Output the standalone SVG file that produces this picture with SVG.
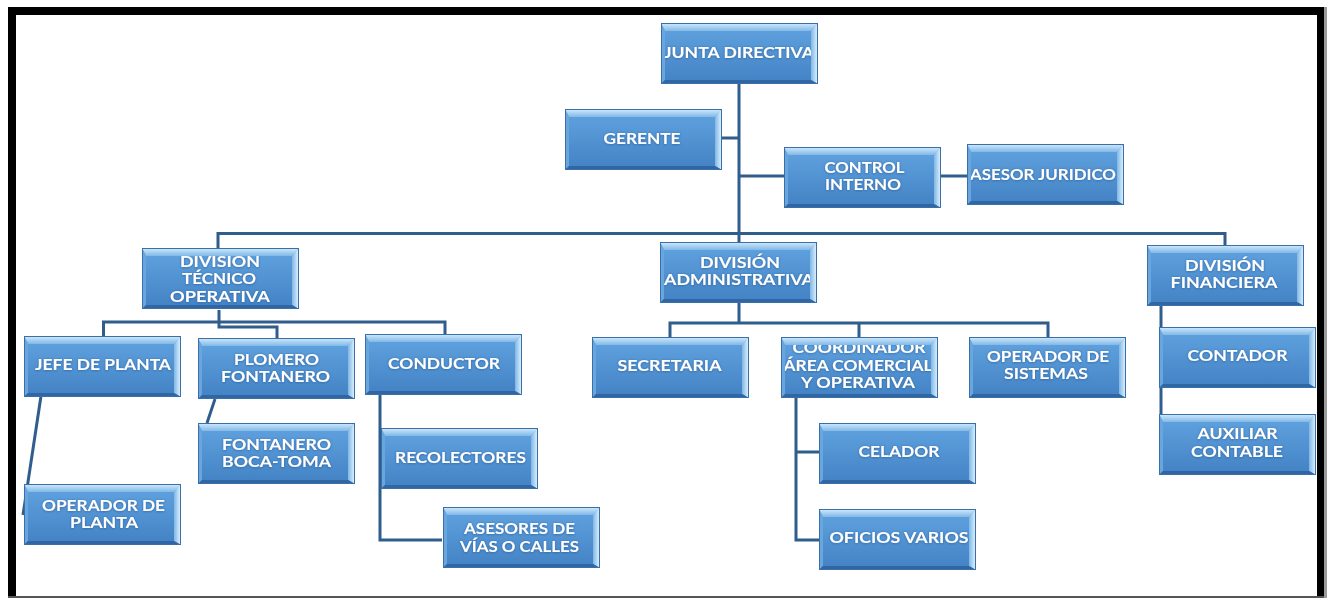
<svg xmlns="http://www.w3.org/2000/svg" width="1327" height="598" viewBox="0 0 1327 598">
<defs>
<linearGradient id="gFace" x1="0" y1="0" x2="0" y2="1">
<stop offset="0" stop-color="#62a3e0"/>
<stop offset="1" stop-color="#4282c4"/>
</linearGradient>
<linearGradient id="gTop" x1="0" y1="0" x2="0" y2="1">
<stop offset="0" stop-color="#d4ebfb"/>
<stop offset="1" stop-color="#80b9e8"/>
</linearGradient>
<linearGradient id="gRight" x1="0" y1="0" x2="1" y2="0">
<stop offset="0" stop-color="#7fb6e6"/>
<stop offset="1" stop-color="#e6f6ff"/>
</linearGradient>
<filter id="tshadow" x="-10%" y="-30%" width="120%" height="160%">
<feDropShadow dx="0" dy="0.5" stdDeviation="0.8" flood-color="#1f4f86" flood-opacity="0.7"/>
</filter>
<symbol id="face" overflow="visible">
<rect x="0" y="0" width="157" height="61" fill="url(#gFace)"/>
</symbol>
<symbol id="bevel" overflow="visible">
<polygon points="0,0 157,0 150,8 4,8" fill="url(#gTop)"/>
<polygon points="0,0 4,8 4,57 0,61" fill="#6aa6de"/>
<polygon points="157,0 157,61 150,57 150,8" fill="url(#gRight)"/>
<polygon points="0,61 4,57 150,57 157,61" fill="#2f66a3"/>
<rect x="0.5" y="0.5" width="156" height="60" fill="none" stroke="#3a70aa" stroke-width="1"/>
</symbol>
</defs>
<style>
.lbl{font-family:Lato,"Open Sans","Liberation Sans",sans-serif;font-weight:700;font-size:16px;fill:#ffffff;text-anchor:middle;filter:url(#tshadow)}
.con{fill:none;stroke:#2f5d8c;stroke-width:3}
</style>
<rect x="0" y="0" width="1327" height="598" fill="#ffffff"/>
<g id="frame">
<rect x="8" y="7" width="1316" height="8" fill="#000000"/>
<rect x="8" y="7" width="8" height="591" fill="#000000"/>
<rect x="1317" y="7" width="7" height="591" fill="#000000"/>
<rect x="1324" y="7" width="3" height="591" fill="#9a9a9a"/>
<rect x="8" y="596" width="1316" height="2" fill="#555555"/>
</g>
<g id="connectors">
<path class="con" d="M739 83 V242"/>
<path class="con" d="M721 138 H739"/>
<path class="con" d="M739 176 H784"/>
<path class="con" d="M941 176 H967"/>
<path class="con" d="M218 248 V233.5 H1225 V245"/>
<path class="con" d="M219 310 V322"/>
<path class="con" d="M103.5 336 V322 H445 V334"/>
<path class="con" d="M219 322 V327 H277 V338"/>
<path class="con" d="M41 396 L23 515"/>
<path class="con" d="M215 399 L207 423"/>
<path class="con" d="M380 394 V540 H442"/>
<path class="con" d="M739 302 V323"/>
<path class="con" d="M670 337 V323 H1048 V337"/>
<path class="con" d="M859 323 V337"/>
<path class="con" d="M796 397 V540 H819"/>
<path class="con" d="M796 452 H819"/>
<path class="con" d="M1161 305 V443"/>
</g>
<g id="n-junta"><use href="#face" x="661" y="23"/><text class="lbl" x="739" y="58" textLength="150" lengthAdjust="spacingAndGlyphs">JUNTA DIRECTIVA</text><use href="#bevel" x="661" y="23"/></g>
<g id="n-gerente"><use href="#face" x="565" y="109"/><text class="lbl" x="642" y="144" textLength="77" lengthAdjust="spacingAndGlyphs">GERENTE</text><use href="#bevel" x="565" y="109"/></g>
<g id="n-control"><use href="#face" x="784" y="147"/><text class="lbl" x="864.5" y="173" textLength="80" lengthAdjust="spacingAndGlyphs">CONTROL</text><text class="lbl" x="863" y="190" textLength="76" lengthAdjust="spacingAndGlyphs">INTERNO</text><use href="#bevel" x="784" y="147"/></g>
<g id="n-asesor"><use href="#face" x="967" y="144"/><text class="lbl" x="1043" y="180" textLength="146" lengthAdjust="spacingAndGlyphs">ASESOR JURIDICO</text><use href="#bevel" x="967" y="144"/></g>
<g id="n-divtec"><use href="#face" x="142" y="248"/><text class="lbl" x="220" y="267" textLength="80" lengthAdjust="spacingAndGlyphs">DIVISION</text><text class="lbl" x="219" y="284" textLength="74" lengthAdjust="spacingAndGlyphs">TÉCNICO</text><text class="lbl" x="220" y="302" textLength="100" lengthAdjust="spacingAndGlyphs">OPERATIVA</text><use href="#bevel" x="142" y="248"/></g>
<g id="n-divadm"><use href="#face" x="660" y="242"/><text class="lbl" x="740" y="268" textLength="80" lengthAdjust="spacingAndGlyphs">DIVISIÓN</text><text class="lbl" x="739" y="285" textLength="150" lengthAdjust="spacingAndGlyphs">ADMINISTRATIVA</text><use href="#bevel" x="660" y="242"/></g>
<g id="n-divfin"><use href="#face" x="1147" y="245"/><text class="lbl" x="1225" y="271" textLength="80" lengthAdjust="spacingAndGlyphs">DIVISIÓN</text><text class="lbl" x="1224" y="288" textLength="107" lengthAdjust="spacingAndGlyphs">FINANCIERA</text><use href="#bevel" x="1147" y="245"/></g>
<g id="n-jefe"><use href="#face" x="24" y="336"/><text class="lbl" x="103" y="370" textLength="136" lengthAdjust="spacingAndGlyphs">JEFE DE PLANTA</text><use href="#bevel" x="24" y="336"/></g>
<g id="n-plomero"><use href="#face" x="198" y="338"/><text class="lbl" x="276.5" y="365" textLength="85" lengthAdjust="spacingAndGlyphs">PLOMERO</text><text class="lbl" x="275.5" y="382" textLength="109" lengthAdjust="spacingAndGlyphs">FONTANERO</text><use href="#bevel" x="198" y="338"/></g>
<g id="n-conductor"><use href="#face" x="365" y="334"/><text class="lbl" x="444" y="369" textLength="112" lengthAdjust="spacingAndGlyphs">CONDUCTOR</text><use href="#bevel" x="365" y="334"/></g>
<g id="n-bocatoma"><use href="#face" x="198" y="423"/><text class="lbl" x="276.5" y="450" textLength="109" lengthAdjust="spacingAndGlyphs">FONTANERO</text><text class="lbl" x="276.5" y="467" textLength="109" lengthAdjust="spacingAndGlyphs">BOCA-TOMA</text><use href="#bevel" x="198" y="423"/></g>
<g id="n-opplanta"><use href="#face" x="24" y="484"/><text class="lbl" x="103.5" y="511" textLength="123" lengthAdjust="spacingAndGlyphs">OPERADOR DE</text><text class="lbl" x="104" y="528" textLength="68" lengthAdjust="spacingAndGlyphs">PLANTA</text><use href="#bevel" x="24" y="484"/></g>
<g id="n-recolectores"><use href="#face" x="381" y="428"/><text class="lbl" x="460.5" y="463" textLength="131" lengthAdjust="spacingAndGlyphs">RECOLECTORES</text><use href="#bevel" x="381" y="428"/></g>
<g id="n-asesoresvias"><use href="#face" x="443" y="507"/><text class="lbl" x="519.5" y="534" textLength="111" lengthAdjust="spacingAndGlyphs">ASESORES DE</text><text class="lbl" x="519.5" y="552" textLength="119" lengthAdjust="spacingAndGlyphs">VÍAS O CALLES</text><use href="#bevel" x="443" y="507"/></g>
<g id="n-secretaria"><use href="#face" x="592" y="337"/><text class="lbl" x="669.5" y="371" textLength="104" lengthAdjust="spacingAndGlyphs">SECRETARIA</text><use href="#bevel" x="592" y="337"/></g>
<g id="n-coordinador"><use href="#face" x="781" y="337"/><text class="lbl" x="859" y="353" textLength="133" lengthAdjust="spacingAndGlyphs">COORDINADOR</text><text class="lbl" x="858" y="371" textLength="149" lengthAdjust="spacingAndGlyphs">ÁREA COMERCIAL</text><text class="lbl" x="858" y="388" textLength="114" lengthAdjust="spacingAndGlyphs">Y OPERATIVA</text><use href="#bevel" x="781" y="337"/></g>
<g id="n-opsistemas"><use href="#face" x="969" y="337"/><text class="lbl" x="1048" y="362" textLength="122" lengthAdjust="spacingAndGlyphs">OPERADOR DE</text><text class="lbl" x="1046" y="379" textLength="84" lengthAdjust="spacingAndGlyphs">SISTEMAS</text><use href="#bevel" x="969" y="337"/></g>
<g id="n-celador"><use href="#face" x="819" y="423"/><text class="lbl" x="899" y="457" textLength="81" lengthAdjust="spacingAndGlyphs">CELADOR</text><use href="#bevel" x="819" y="423"/></g>
<g id="n-oficios"><use href="#face" x="819" y="509"/><text class="lbl" x="899" y="543" textLength="139" lengthAdjust="spacingAndGlyphs">OFICIOS VARIOS</text><use href="#bevel" x="819" y="509"/></g>
<g id="n-contador"><use href="#face" x="1159" y="327"/><text class="lbl" x="1237.5" y="361" textLength="100" lengthAdjust="spacingAndGlyphs">CONTADOR</text><use href="#bevel" x="1159" y="327"/></g>
<g id="n-auxiliar"><use href="#face" x="1159" y="414"/><text class="lbl" x="1237.5" y="439" textLength="80" lengthAdjust="spacingAndGlyphs">AUXILIAR</text><text class="lbl" x="1237" y="457" textLength="92" lengthAdjust="spacingAndGlyphs">CONTABLE</text><use href="#bevel" x="1159" y="414"/></g>
</svg>
